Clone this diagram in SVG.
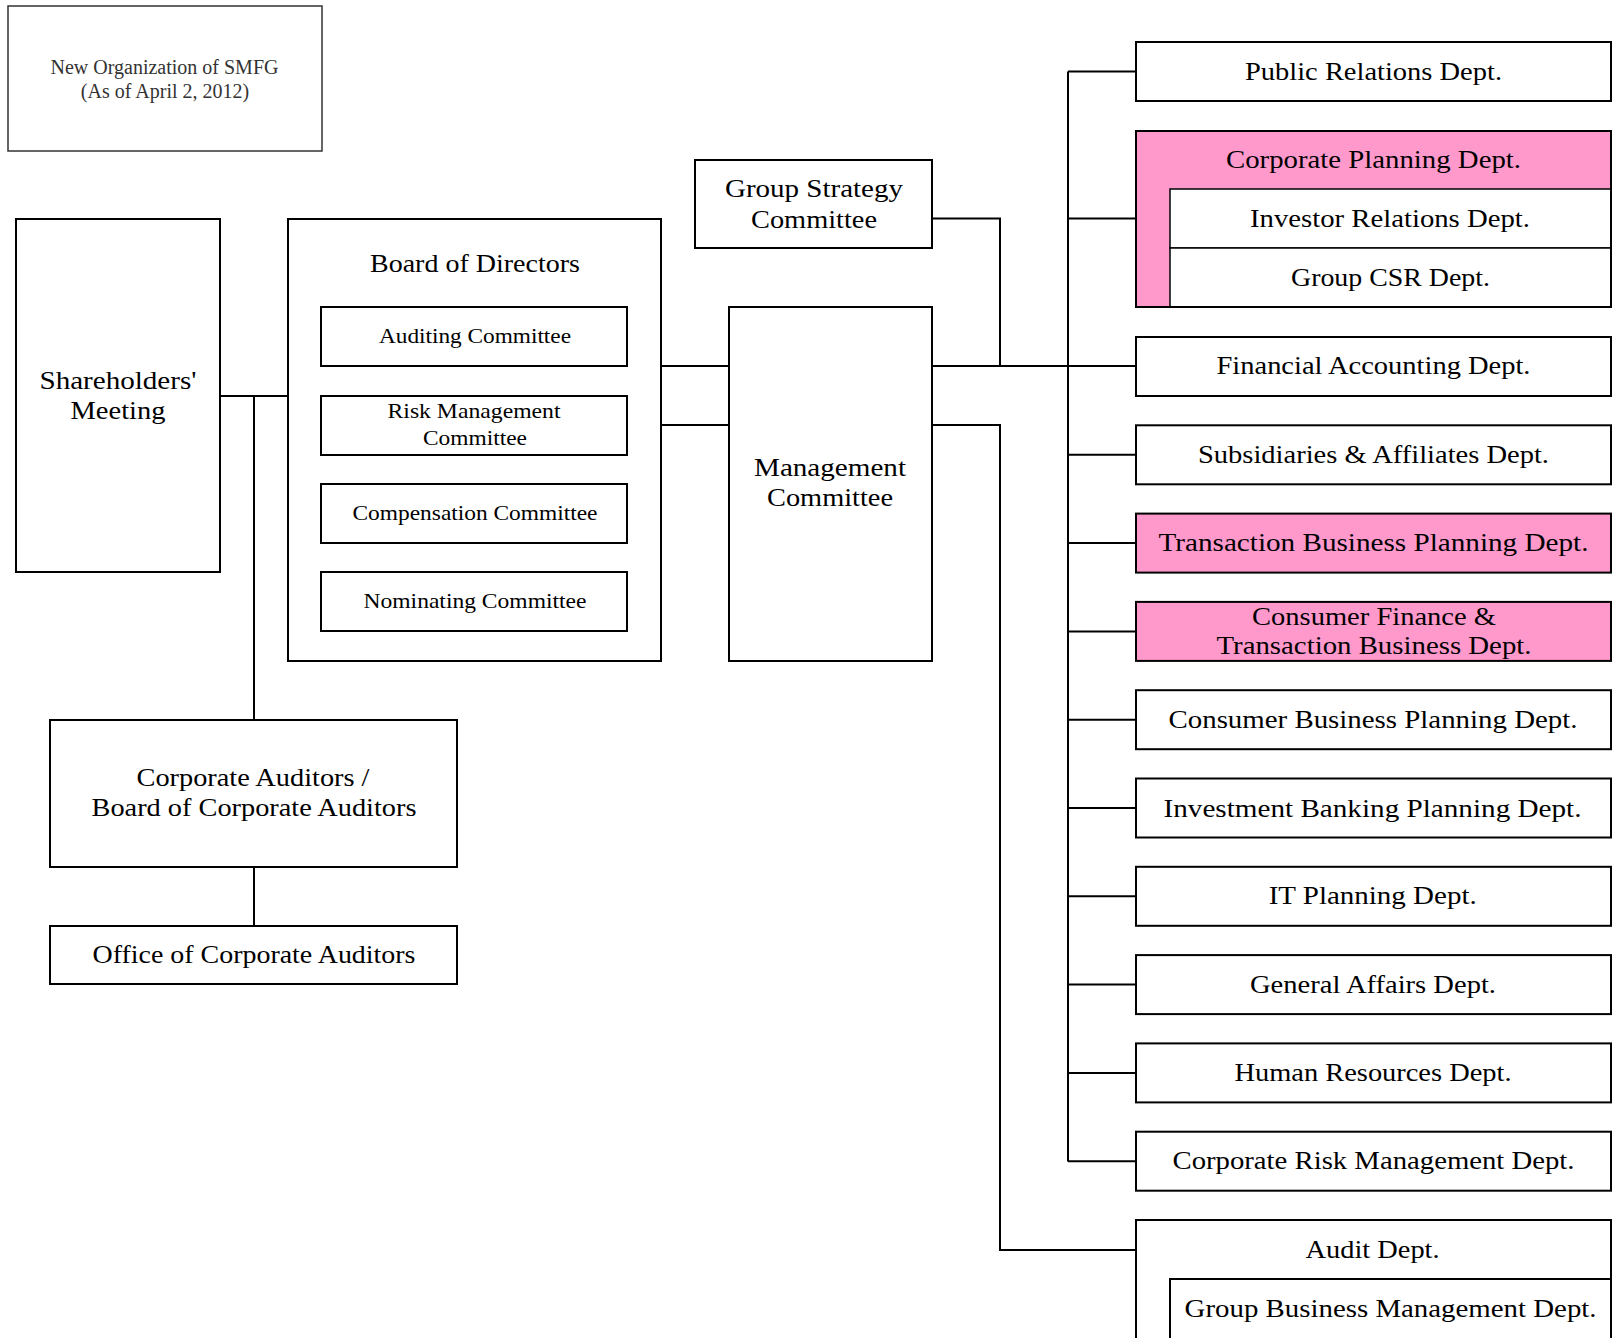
<svg xmlns="http://www.w3.org/2000/svg" width="1615" height="1338" viewBox="0 0 1615 1338">
<style>
.box{fill:#fff;stroke:#000;stroke-width:2}
.pink{fill:#ff99cc;stroke:#000;stroke-width:2}
.inner{fill:#fff;stroke:#000;stroke-width:1.5}
.t{font-family:"Liberation Serif","Times New Roman",serif;font-size:25px;text-anchor:middle;fill:#000}
.s{font-size:21px}
.title{font-family:"Liberation Serif","Times New Roman",serif;font-size:20px;text-anchor:middle;fill:#333}
.conn{stroke:#000;stroke-width:2;fill:none}
</style>
<rect width="1615" height="1338" fill="#fff"/>

<g id="title">
<rect x="8" y="6" width="314" height="145" fill="#fff" stroke="#333" stroke-width="1.5"/>
<text class="title" x="164.5" y="74">New Organization of SMFG</text>
<text class="title" x="165" y="98">(As of April 2, 2012)</text>
</g>

<g id="connectors" class="conn">
<path d="M220,396H288"/>
<path d="M254,396V720"/>
<path d="M254,867V926"/>
<path d="M661,366H729"/>
<path d="M661,425H729"/>
<path d="M932,218.5H1000V366"/>
<path d="M932,366H1136"/>
<path d="M932,425H1000V1250H1136"/>
<path d="M1068,71.5V1161.5"/>
<path d="M1068,71.5H1136"/>
<path d="M1068,218.5H1136"/>
<path d="M1068,454.8H1136"/>
<path d="M1068,543.1H1136"/>
<path d="M1068,631.4H1136"/>
<path d="M1068,719.7H1136"/>
<path d="M1068,808H1136"/>
<path d="M1068,896.3H1136"/>
<path d="M1068,984.6H1136"/>
<path d="M1068,1072.9H1136"/>
<path d="M1068,1161.2H1136"/>
</g>

<g id="shareholders">
<rect class="box" x="16" y="219" width="204" height="353"/>
<text class="t" x="118" y="389" textLength="157" lengthAdjust="spacingAndGlyphs">Shareholders'</text>
<text class="t" x="118" y="419" textLength="95" lengthAdjust="spacingAndGlyphs">Meeting</text>
</g>

<g id="board">
<rect class="box" x="288" y="219" width="373" height="442"/>
<text class="t" x="475" y="272" textLength="210" lengthAdjust="spacingAndGlyphs">Board of Directors</text>
</g>
<g id="auditing-committee">
<rect class="box" x="321" y="307" width="306" height="59"/>
<text class="t s" x="475" y="343" textLength="192" lengthAdjust="spacingAndGlyphs">Auditing Committee</text>
</g>
<g id="risk-committee">
<rect class="box" x="321" y="396" width="306" height="59"/>
<text class="t s" x="474" y="418" textLength="173" lengthAdjust="spacingAndGlyphs">Risk Management</text>
<text class="t s" x="475" y="445" textLength="104" lengthAdjust="spacingAndGlyphs">Committee</text>
</g>
<g id="compensation-committee">
<rect class="box" x="321" y="484" width="306" height="59"/>
<text class="t s" x="475" y="520" textLength="245" lengthAdjust="spacingAndGlyphs">Compensation Committee</text>
</g>
<g id="nominating-committee">
<rect class="box" x="321" y="572" width="306" height="59"/>
<text class="t s" x="475" y="608" textLength="223" lengthAdjust="spacingAndGlyphs">Nominating Committee</text>
</g>

<g id="group-strategy">
<rect class="box" x="695" y="160" width="237" height="88"/>
<text class="t" x="814" y="197" textLength="178" lengthAdjust="spacingAndGlyphs">Group Strategy</text>
<text class="t" x="814" y="228" textLength="126" lengthAdjust="spacingAndGlyphs">Committee</text>
</g>

<g id="management">
<rect class="box" x="729" y="307" width="203" height="354"/>
<text class="t" x="830" y="476" textLength="152" lengthAdjust="spacingAndGlyphs">Management</text>
<text class="t" x="830" y="506" textLength="126" lengthAdjust="spacingAndGlyphs">Committee</text>
</g>

<g id="corporate-auditors">
<rect class="box" x="50" y="720" width="407" height="147"/>
<text class="t" x="253" y="786" textLength="233" lengthAdjust="spacingAndGlyphs">Corporate Auditors /</text>
<text class="t" x="254" y="816" textLength="325" lengthAdjust="spacingAndGlyphs">Board of Corporate Auditors</text>
</g>
<g id="office-auditors">
<rect class="box" x="50" y="926" width="407" height="58"/>
<text class="t" x="254" y="963" textLength="323" lengthAdjust="spacingAndGlyphs">Office of Corporate Auditors</text>
</g>

<g id="public-relations">
<rect class="box" x="1136" y="42" width="475" height="59"/>
<text class="t" x="1373.5" y="80" textLength="257" lengthAdjust="spacingAndGlyphs">Public Relations Dept.</text>
</g>
<g id="corporate-planning">
<rect class="pink" x="1136" y="131" width="475" height="176"/>
<text class="t" x="1373.5" y="168" textLength="295" lengthAdjust="spacingAndGlyphs">Corporate Planning Dept.</text>
</g>
<g id="investor-relations">
<rect class="inner" x="1170" y="189" width="441" height="59"/>
<text class="t" x="1390" y="227" textLength="280" lengthAdjust="spacingAndGlyphs">Investor Relations Dept.</text>
</g>
<g id="group-csr">
<rect class="inner" x="1170" y="248" width="441" height="59"/>
<text class="t" x="1390.5" y="286" textLength="199" lengthAdjust="spacingAndGlyphs">Group CSR Dept.</text>
<path d="M1170,307H1611V131" fill="none" stroke="#000" stroke-width="2"/>
</g>
<g id="financial-accounting">
<rect class="box" x="1136" y="337" width="475" height="59"/>
<text class="t" x="1373.5" y="374" textLength="314" lengthAdjust="spacingAndGlyphs">Financial Accounting Dept.</text>
</g>
<g id="subsidiaries">
<rect class="box" x="1136" y="425.3" width="475" height="59"/>
<text class="t" x="1373.5" y="463" textLength="351" lengthAdjust="spacingAndGlyphs">Subsidiaries &amp; Affiliates Dept.</text>
</g>
<g id="transaction-planning">
<rect class="pink" x="1136" y="513.6" width="475" height="59"/>
<text class="t" x="1373.5" y="551" textLength="430" lengthAdjust="spacingAndGlyphs">Transaction Business Planning Dept.</text>
</g>
<g id="consumer-finance">
<rect class="pink" x="1136" y="601.9" width="475" height="59"/>
<text class="t" x="1374" y="625" textLength="244" lengthAdjust="spacingAndGlyphs">Consumer Finance &amp;</text>
<text class="t" x="1374" y="654" textLength="315" lengthAdjust="spacingAndGlyphs">Transaction Business Dept.</text>
</g>
<g id="consumer-planning">
<rect class="box" x="1136" y="690.2" width="475" height="59"/>
<text class="t" x="1373" y="728" textLength="409" lengthAdjust="spacingAndGlyphs">Consumer Business Planning Dept.</text>
</g>
<g id="investment-banking">
<rect class="box" x="1136" y="778.5" width="475" height="59"/>
<text class="t" x="1372.5" y="817" textLength="418" lengthAdjust="spacingAndGlyphs">Investment Banking Planning Dept.</text>
</g>
<g id="it-planning">
<rect class="box" x="1136" y="866.8" width="475" height="59"/>
<text class="t" x="1372.7" y="904" textLength="208" lengthAdjust="spacingAndGlyphs">IT Planning Dept.</text>
</g>
<g id="general-affairs">
<rect class="box" x="1136" y="955.1" width="475" height="59"/>
<text class="t" x="1373" y="993" textLength="246" lengthAdjust="spacingAndGlyphs">General Affairs Dept.</text>
</g>
<g id="human-resources">
<rect class="box" x="1136" y="1043.4" width="475" height="59"/>
<text class="t" x="1373" y="1081" textLength="277" lengthAdjust="spacingAndGlyphs">Human Resources Dept.</text>
</g>
<g id="corporate-risk">
<rect class="box" x="1136" y="1131.7" width="475" height="59"/>
<text class="t" x="1373.5" y="1169" textLength="402" lengthAdjust="spacingAndGlyphs">Corporate Risk Management Dept.</text>
</g>
<g id="audit">
<rect class="box" x="1136" y="1220" width="475" height="130"/>
<text class="t" x="1372.6" y="1258" textLength="134" lengthAdjust="spacingAndGlyphs">Audit Dept.</text>
</g>
<g id="group-business-management">
<rect class="box" x="1170" y="1279" width="441" height="70"/>
<text class="t" x="1390.6" y="1317" textLength="412" lengthAdjust="spacingAndGlyphs">Group Business Management Dept.</text>
</g>
</svg>
